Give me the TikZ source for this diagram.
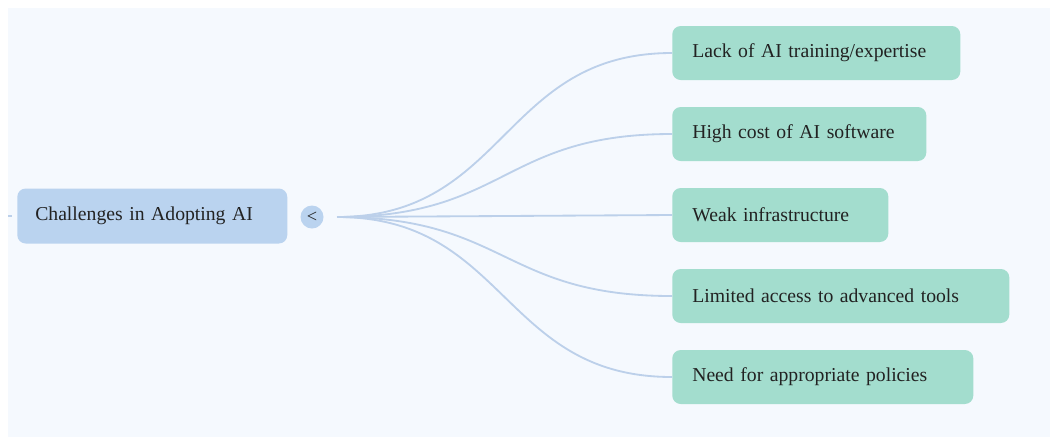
\documentclass[tikz,border=0pt]{standalone}
\usepackage{fontspec}
\setmainfont{Liberation Serif}
\usetikzlibrary{positioning}

\definecolor{canvas}{HTML}{F5F9FE}
\definecolor{rootblue}{HTML}{BAD3EF}
\definecolor{leafgreen}{HTML}{A3DDCE}
\definecolor{edgeblue}{HTML}{BCD0EA}
\definecolor{inkgray}{HTML}{222222}

\tikzset{
  rootbox/.style={shape=rectangle, fill=rootblue, rounded corners=6pt, minimum height=55*0.025cm,
    inner xsep=18*0.025cm, text width=234*0.025cm, align=left, text=inkgray, font=\fontsize{14}{16}\selectfont},
  leafbox/.style={shape=rectangle, fill=leafgreen, rounded corners=6pt, minimum height=54*0.025cm,
    inner xsep=20*0.025cm, text width=#1*0.025cm, align=left, text=inkgray, font=\fontsize{14}{16}\selectfont},
  edge/.style={draw=edgeblue, line width=1.3pt},
}

\begin{document}
\begin{tikzpicture}[x=0.025cm, y=-0.025cm]
      \useasboundingbox (0,0) rectangle (1050,437);
      \fill[white] (0,0) rectangle (1050,437);
      \fill[canvas] (8,8) rectangle (1050,437);

      \node[rootbox, anchor=west] (root) at (17,216) {Challenges in Adopting AI};
      \node[shape=circle, fill=rootblue, minimum size=23*0.025cm, inner sep=0pt, text=inkgray,
        font=\fontsize{13}{13}\selectfont] (toggle) at (312,217) {<};
      \coordinate (hub) at (337,217);

      \node[leafbox=248, anchor=west] (lack) at (672,53) {Lack of AI training/expertise};
      \node[leafbox=214, anchor=west] (cost) at (672,134) {High cost of AI software};
      \node[leafbox=176, anchor=west] (infra) at (672,215) {Weak infrastructure};
      \node[leafbox=297, anchor=west] (tools) at (672,296) {Limited access to advanced tools};
      \node[leafbox=261, anchor=west] (policy) at (672,377) {Need for appropriate policies};

      % stub coming in from the left edge
      \coordinate (stubA) at (8,216);
      \coordinate (stubB) at (12,216);
      \draw[edge] (stubA) -- (stubB);

      \draw[edge] (hub) .. controls +(170,0) and +(-170,0) .. (lack.west);
      \draw[edge] (hub) .. controls +(170,0) and +(-170,0) .. (cost.west);
      \draw[edge] (hub) -- (infra.west);
      \draw[edge] (hub) .. controls +(170,0) and +(-170,0) .. (tools.west);
      \draw[edge] (hub) .. controls +(170,0) and +(-170,0) .. (policy.west);
    \end{tikzpicture}
\end{document}
